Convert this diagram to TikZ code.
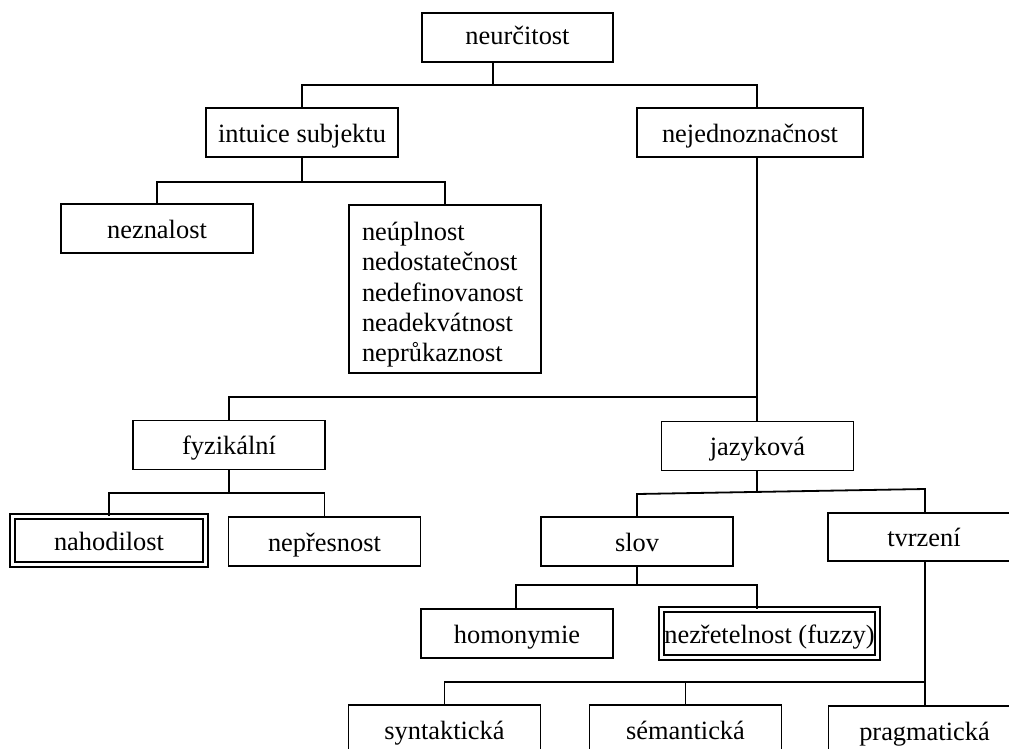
\documentclass[tikz,border=0pt]{standalone}
\usepackage{fontspec}
\setmainfont{Liberation Serif}
\begin{document}
\begin{tikzpicture}[x=1pt,y=-1pt,
 basebox/.style={draw, line width=1.8pt, inner sep=0pt, minimum width=192pt, minimum height=49pt, font=\fontsize{26.4}{30.2}\selectfont},
 box/.style={basebox, text height=19pt, text depth=0pt},
 dbox/.style={box, double, double distance=3pt, line width=2pt},
 wire/.style={line width=1.8pt}]
\useasboundingbox (0,0) rectangle (1009,748);

\node[box, minimum width=191pt, text height=14pt] (neu) at (517.5,37.5) {neurčitost};
\node[box] (intu) at (302,132.5) {intuice subjektu};
\node[box, minimum width=226pt] (nej) at (750,132.5) {nejednoznačnost};
\node[box] (nez) at (157,228.5) {neznalost};
\node[basebox, minimum height=168pt, text width=166pt, align=left, inner xsep=13pt] (multi) at (445,289) {\rule{0pt}{30pt}neúplnost\\nedostatečnost\\nedefinovanost\\neadekvátnost\\neprůkaznost};
\node[box] (fyz) at (229,445) {fyzikální};
\node[box] (jaz) at (757.5,446) {jazyková};
\node[dbox, minimum width=192.8pt, minimum height=47.8pt] (nah) at (109,540.5) {nahodilost};
\node[box] (nep) at (324.5,541.5) {nepřesnost};
\node[box] (slov) at (637,541.5) {slov};
\node[box, minimum height=48pt] (tvr) at (924,537) {tvrzení};
\node[box] (hom) at (517,633.5) {homonymie};
\node[dbox, minimum width=215.8pt, minimum height=47.8pt] (nzr) at (769.5,633.5) {nezřetelnost (fuzzy)};
\node[box] (syn) at (444.5,729.5) {syntaktická};
\node[box] (sem) at (685.5,729.5) {sémantická};
\node[box] (pra) at (924.5,730.5) {pragmatická};

\coordinate (c1) at (493,85);
\coordinate (c2) at (757,85);
\draw[wire] (neu.south -| c1) -- (c1);
\draw[wire] (intu.north) |- (c2) -- (nej.north -| c2);

\coordinate (c3) at (301,182);
\draw[wire] (intu.south) -- (intu.south |- c3);
\draw[wire] (nez.north) |- (c3) -| (multi.north);

\draw[wire] (nej.south -| c2) -- (jaz.north -| c2);
\coordinate (c4) at (757,397);
\draw[wire] (fyz.north) |- (c4);

\coordinate (c5) at (229,493);
\draw[wire] (fyz.south) -- (c5);
\draw[wire] (nah.north) |- (c5) -| (nep.north);

\coordinate (c6) at (757,492);
\draw[wire] (jaz.south -| c6) -- (c6);
\coordinate (c7) at (637,494);
\coordinate (c8) at (925,489);
\draw[wire] (slov.north) -- (c7) -- (c8) -- (tvr.north -| c8);

\coordinate (c9) at (637,585);
\draw[wire] (slov.south) -- (c9);
\coordinate (c10) at (516,585);
\coordinate (c11) at (757,585);
\draw[wire] (hom.north -| c10) -- (c10) -- (c11) -- (nzr.north -| c11);

\draw[wire] (tvr.south -| c8) -- (pra.north -| c8);
\coordinate (c12) at (925,682);
\draw[wire] (syn.north) |- (c12);
\draw[wire] (sem.north) -- (sem.north |- c12);
\end{tikzpicture}
\end{document}
